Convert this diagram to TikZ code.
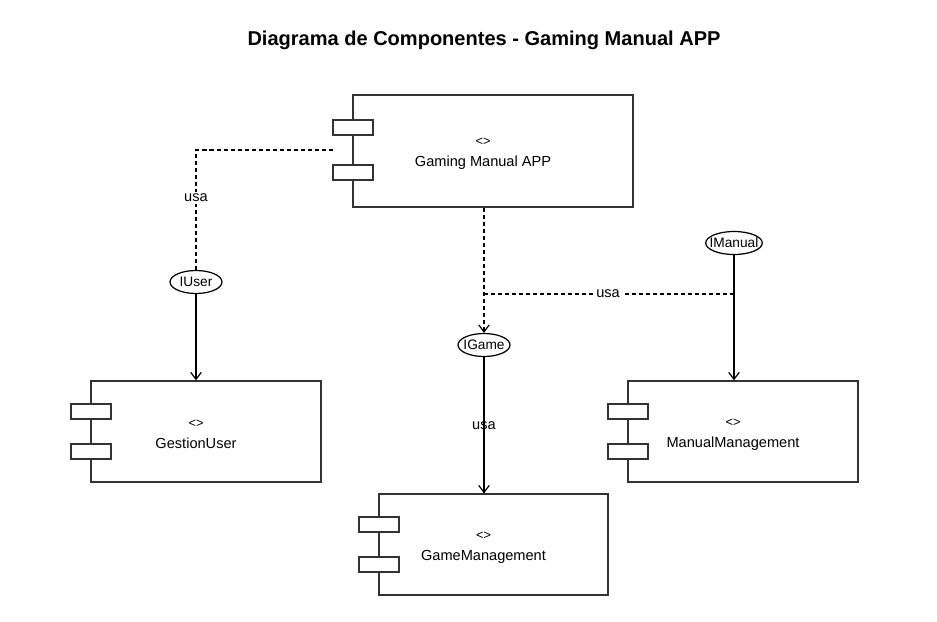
\documentclass[tikz,border=0pt]{standalone}
\usepackage{fontspec}
\setmainfont{Liberation Sans}
\usepackage{tikz}
\usetikzlibrary{arrows.meta,positioning,shapes.geometric,calc}
\definecolor{linec}{HTML}{333333}

\begin{document}
\begin{tikzpicture}[x=0.02cm, y=-0.02cm,
  font=\fontsize{8.3}{10}\selectfont,
  body/.style={rectangle, draw=linec, line width=0.7pt, minimum width=4.6cm,
               minimum height=2.02cm, inner sep=0pt},
  port/.style={rectangle, draw=linec, fill=white, line width=0.7pt,
               minimum width=0.8cm, minimum height=0.3cm, inner sep=0pt},
  ctext/.style={align=center, inner sep=0pt},
  iface/.style={ellipse, draw=black, line width=0.7pt, minimum width=1.04cm,
                minimum height=0.46cm, inner xsep=-2.5pt, inner ysep=0pt,
                font=\fontsize{7.8}{9}\selectfont},
  dep/.style={draw=black, line width=0.7pt, dash pattern=on 2.3pt off 1.7pt},
  prov/.style={draw=black, line width=0.7pt},
  tip/.style={-{Straight Barb[length=4pt, width=6pt, line width=0.7pt]}},
  lbl/.style={fill=white, inner sep=1pt}]
\useasboundingbox (0,0) rectangle (937,622);
\node[font=\bfseries\fontsize{11.4}{13}\selectfont] (title) at (484,40)
     {Diagrama de Componentes - Gaming Manual APP};
% components
\node[body, minimum width=5.6cm, minimum height=2.24cm] (app) at (493,151) {};
\node[port] (appp1) at (353,127.5) {}; \node[port] (appp2) at (353,172.5) {};
\node[ctext] (appt) at (483,154) {{\fontsize{7.3}{8}\selectfont <>}\\[2pt]Gaming Manual APP};
\node[body] (gu) at (206,431.5) {};
\node[port] (gup1) at (91,411.5) {}; \node[port] (gup2) at (91,451.5) {};
\node[ctext] (gut) at (196,434.5) {{\fontsize{7.3}{8}\selectfont <>}\\[2pt]GestionUser};
\node[body, minimum width=4.58cm] (gm) at (493.5,544.5) {};
\node[port] (gmp1) at (379,524.5) {}; \node[port] (gmp2) at (379,564.5) {};
\node[ctext] (gmt) at (483.5,547.5) {{\fontsize{7.3}{8}\selectfont <>}\\[2pt]GameManagement};
\node[body] (mm) at (743,431.5) {};
\node[port] (mmp1) at (628,411.5) {}; \node[port] (mmp2) at (628,451.5) {};
\node[ctext] (mmt) at (733,434.5) {{\fontsize{7.3}{8}\selectfont <>}\\[2pt]ManualManagement};
% interfaces
\node[iface] (iuser) at (196,282) {IUser};
\node[iface] (igame) at (484,345) {IGame};
\node[iface, minimum width=1.0cm] (imanual) at (734,243) {IManual};
% connectors
\coordinate (appin) at (333,150);
\coordinate (split) at (484,294);
\draw[dep] (appin) -| node[lbl, pos=0.7] {usa} (iuser.north);
\draw[dep, tip] (app.south -| igame.north) -- (igame.north);
\draw[dep] (split) -| node[lbl, pos=0.248] {usa} (imanual.south |- mm.north);
\draw[prov, tip] (iuser.south) -- (iuser.south |- gu.north);
\draw[prov, tip] (imanual.south) -- (imanual.south |- mm.north);
\draw[prov, tip] (igame.south) -- (igame.south |- gm.north);
\draw[dep] (igame.south) -- node[inner sep=0pt] {usa} (igame.south |- gm.north);
\end{tikzpicture}
\end{document}
